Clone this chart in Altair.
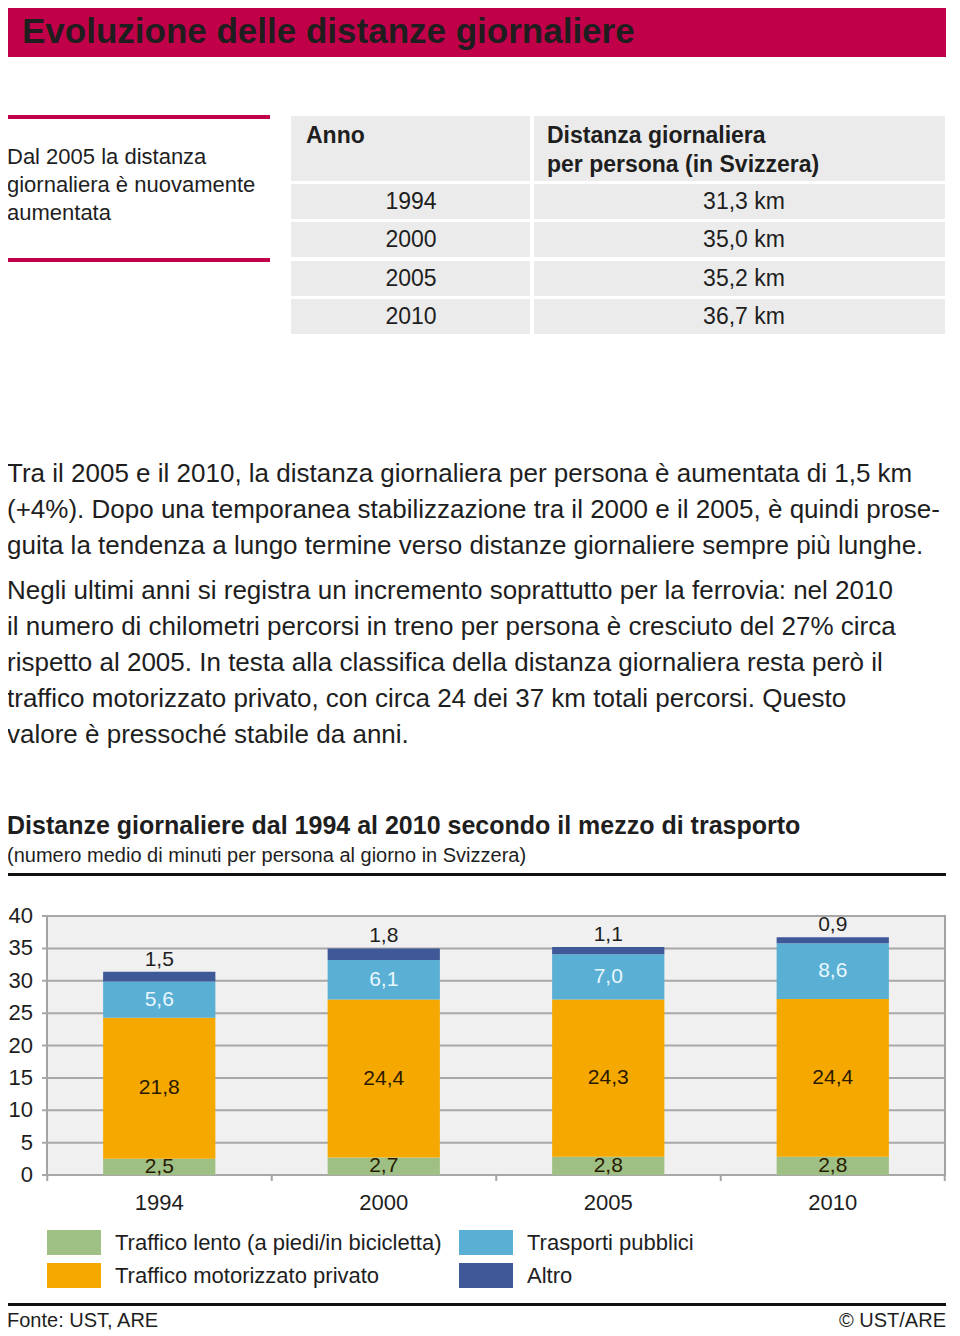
import altair as alt
import pandas as pd

# ---------------- data ----------------
years = ["1994", "2000", "2005", "2010"]
modes = ["Traffico lento (a piedi/in bicicletta)", "Traffico motorizzato privato",
         "Trasporti pubblici", "Altro"]
lento = [2.5, 2.7, 2.8, 2.8]
privato = [21.8, 24.4, 24.3, 24.4]
pubblici = [5.6, 6.1, 7.0, 8.6]
altro = [1.5, 1.8, 1.1, 0.9]
mode_colors = ["#9FC084", "#F5A900", "#5AAFD4", "#3F5898"]
y_ticks = [0, 5, 10, 15, 20, 25, 30, 35, 40]

page_title = "Evoluzione delle distanze giornaliere"
side_note = ["Dal 2005 la distanza", "giornaliera è nuovamente", "aumentata"]
table_head_1 = "Anno"
table_head_2 = ["Distanza giornaliera", "per persona (in Svizzera)"]
table_years = ["1994", "2000", "2005", "2010"]
table_dist = ["31,3 km", "35,0 km", "35,2 km", "36,7 km"]
paragraph_1 = [
    "Tra il 2005 e il 2010, la distanza giornaliera per persona è aumentata di 1,5 km",
    "(+4%). Dopo una temporanea stabilizzazione tra il 2000 e il 2005, è quindi prose-",
    "guita la tendenza a lungo termine verso distanze giornaliere sempre più lunghe.",
]
paragraph_2 = [
    "Negli ultimi anni si registra un incremento soprattutto per la ferrovia: nel 2010",
    "il numero di chilometri percorsi in treno per persona è cresciuto del 27% circa",
    "rispetto al 2005. In testa alla classifica della distanza giornaliera resta però il",
    "traffico motorizzato privato, con circa 24 dei 37 km totali percorsi. Questo",
    "valore è pressoché stabile da anni.",
]
chart_title = "Distanze giornaliere dal 1994 al 2010 secondo il mezzo di trasporto"
chart_subtitle = "(numero medio di minuti per persona al giorno in Svizzera)"
source_text = "Fonte: UST, ARE"
copyright_text = "© UST/ARE"

# ---------------- helpers ----------------
FONT = "Liberation Sans, Arial, sans-serif"
INK = "#1E1E1E"
RED = "#C1004A"


def P(v):
    """page pixel -> chart pixel (page has an 8px margin)"""
    return v - 8


def txt(s, x, y, size, weight="normal", align="left", color=INK):
    return alt.Chart(pd.DataFrame({"t": [s]})).mark_text(
        align=align, baseline="middle", fontSize=size, fontWeight=weight,
        font=FONT, color=color
    ).encode(x=alt.value(P(x)), y=alt.value(P(y)), text="t:N")


def box(x1, y1, x2, y2, color):
    return alt.Chart(pd.DataFrame({"a": [0]})).mark_rect(color=color).encode(
        x=alt.value(P(x1)), x2=alt.value(P(x2)),
        y=alt.value(P(y1)), y2=alt.value(P(y2)))


layers = []

# header
layers.append(box(7, 5, 946, 57, RED))
layers.append(txt(page_title, 22, 32, 35, "bold"))

# side note with red rules
layers.append(box(7, 115, 270, 119, RED))
layers.append(box(7, 258, 270, 262, RED))
for i, s in enumerate(side_note):
    layers.append(txt(s, 7, 157 + 28 * i, 22))

# table
CELL = "#EBEBEB"
layers.append(box(291, 116, 530, 181, CELL))
layers.append(box(534, 116, 945, 181, CELL))
row_tops = [184, 222, 261, 299]
for i, (yr, dv) in enumerate(zip(table_years, table_dist)):
    t = row_tops[i]
    layers.append(box(291, t, 530, t + 35, CELL))
    layers.append(box(534, t, 945, t + 35, CELL))
    layers.append(txt(yr, 411, t + 18, 23, align="center"))
    layers.append(txt(dv, 744, t + 18, 23, align="center"))
layers.append(txt(table_head_1, 306, 136, 23, "bold"))
layers.append(txt(table_head_2[0], 547, 136, 23, "bold"))
layers.append(txt(table_head_2[1], 547, 165, 23, "bold"))

# paragraphs
for i, s in enumerate(paragraph_1):
    layers.append(txt(s, 7, 474 + 36 * i, 26))
for i, s in enumerate(paragraph_2):
    layers.append(txt(s, 7, 591 + 36 * i, 26))

# chart title
layers.append(txt(chart_title, 7, 826, 25, "bold"))
layers.append(txt(chart_subtitle, 7, 856, 20))
layers.append(box(7, 873, 946, 876, "#111111"))

# ---------------- bar chart ----------------
x_scale = alt.Scale(domain=years, range=[P(47), P(945)], paddingInner=0.5, paddingOuter=0.25)
y_scale = alt.Scale(domain=[0, 40], range=[P(1175), P(916)])

frame = alt.Chart(pd.DataFrame({"lo": [0], "hi": [40]})).mark_rect(
    fill="#F0F0F0", stroke="#A3A3A3", strokeWidth=2
).encode(x=alt.value(P(47)), x2=alt.value(P(945)),
         y=alt.Y("hi:Q", scale=y_scale, axis=None), y2="lo:Q")
layers.append(frame)

grid = alt.Chart(pd.DataFrame({"t": y_ticks})).mark_rule(
    color="#A8A8A8", strokeWidth=2
).encode(x=alt.value(P(42)), x2=alt.value(P(945)),
         y=alt.Y("t:Q", scale=y_scale, axis=None))
layers.append(grid)

ylab = alt.Chart(pd.DataFrame({"t": y_ticks})).mark_text(
    align="right", baseline="middle", fontSize=22, font=FONT, color=INK
).encode(x=alt.value(P(33)), y=alt.Y("t:Q", scale=y_scale, axis=None), text="t:Q")
layers.append(ylab)

rows = []
series = [lento, privato, pubblici, altro]
for yi, yr in enumerate(years):
    base = 0.0
    for mi, m in enumerate(modes):
        v = series[mi][yi]
        rows.append({"year": yr, "mode": m, "value": v, "ord": mi,
                     "mid": base + v / 2, "top": base + v,
                     "label": f"{v:.1f}".replace(".", ",")})
        base += v
df = pd.DataFrame(rows)

bars = alt.Chart(df).mark_bar().encode(
    x=alt.X("year:N", scale=x_scale, axis=None),
    y=alt.Y("value:Q", stack="zero", scale=y_scale, axis=None),
    color=alt.Color("mode:N", scale=alt.Scale(domain=modes, range=mode_colors), legend=None),
    order=alt.Order("ord:Q"),
)
layers.append(bars)

lab_dark = alt.Chart(df[df["ord"] <= 1]).mark_text(
    align="center", baseline="middle", fontSize=21, font=FONT, color="#2A1A00"
).encode(x=alt.X("year:N", scale=x_scale, axis=None),
         y=alt.Y("mid:Q", scale=y_scale, axis=None), text="label:N")
lab_light = alt.Chart(df[df["ord"] == 2]).mark_text(
    align="center", baseline="middle", fontSize=21, font=FONT, color="#E8F7FF"
).encode(x=alt.X("year:N", scale=x_scale, axis=None),
         y=alt.Y("mid:Q", scale=y_scale, axis=None), text="label:N")
lab_top = alt.Chart(df[df["ord"] == 3]).mark_text(
    align="center", baseline="bottom", dy=-2, fontSize=21, font=FONT, color=INK
).encode(x=alt.X("year:N", scale=x_scale, axis=None),
         y=alt.Y("top:Q", scale=y_scale, axis=None), text="label:N")
layers += [lab_dark, lab_light, lab_top]

# x axis ticks at category boundaries and year labels
ticks_df = pd.DataFrame({"year": years})
xticks = alt.Chart(ticks_df).mark_rule(color="#A3A3A3", strokeWidth=2, xOffset=-112).encode(
    x=alt.X("year:N", scale=x_scale, axis=None),
    y=alt.value(P(1175)), y2=alt.value(P(1181)))
xtick_end = alt.Chart(ticks_df[ticks_df["year"] == years[-1]]).mark_rule(
    color="#A3A3A3", strokeWidth=2, xOffset=112).encode(
    x=alt.X("year:N", scale=x_scale, axis=None),
    y=alt.value(P(1175)), y2=alt.value(P(1181)))
xlab = alt.Chart(ticks_df).mark_text(
    align="center", baseline="middle", fontSize=22, font=FONT, color=INK
).encode(x=alt.X("year:N", scale=x_scale, axis=None), y=alt.value(P(1203)), text="year:N")
layers += [xticks, xtick_end, xlab]

# legend
leg_pos = [(47, 1230), (47, 1263), (459, 1230), (459, 1263)]
leg_order = [0, 1, 2, 3]
for (lx, ly), mi in zip(leg_pos, leg_order):
    layers.append(box(lx, ly, lx + 54, ly + 25, mode_colors[mi]))
    layers.append(txt(modes[mi], lx + 68, ly + 13, 22))

# footer
layers.append(box(7, 1303, 946, 1306, "#111111"))
layers.append(txt(source_text, 7, 1321, 20))
layers.append(txt(copyright_text, 946, 1321, 20, align="right"))

chart = alt.layer(*layers).properties(
    width=944, height=1328, padding=0, autosize="none", background="white"
).configure_view(stroke=None)

chart.save("out.html", embed_options={"renderer": "svg", "actions": False})
